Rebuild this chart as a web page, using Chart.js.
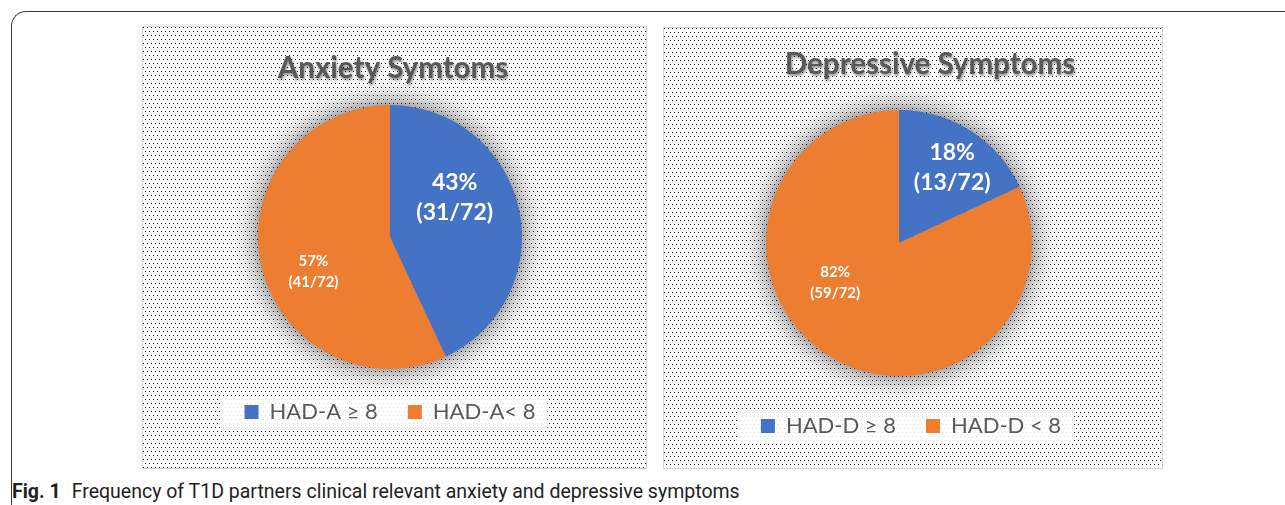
<!DOCTYPE html>
<html>
<head>
<meta charset="utf-8">
<script src="https://cdn.jsdelivr.net/npm/chart.js@4.4.0/dist/chart.umd.min.js"></script>
<style>
  html, body { margin: 0; padding: 0; background: #fff; }
  body { width: 1285px; height: 505px; position: relative; overflow: hidden; }
  .frame {
    position: absolute; left: 11px; top: 11px; width: 1400px; height: 600px;
    border-top: 1.5px solid #3a3a3a; border-left: 1.5px solid #3a3a3a;
    border-top-left-radius: 15px;
  }
  .panel {
    position: absolute; border: 1px solid #d4d4d4; box-sizing: border-box;
  }
  .panel canvas { position: absolute; left: 0; top: 0; }
  #p1 { left: 142px; top: 26px; width: 505px; height: 443px; }
  #p2 { left: 663px; top: 27px; width: 500px; height: 442px; }
  .caption {
    position: absolute; left: 12px; top: 480px; font-size: 19.5px; color: #222;
    font-family: 'Roboto', sans-serif; white-space: nowrap;
  }
  .caption b { margin-right: 11px; }
</style>
</head>
<body>
<div class="frame"></div>
<div class="panel" id="p1"><canvas id="anxietyChart" width="504" height="442"></canvas></div>
<div class="panel" id="p2"><canvas id="depressiveChart" width="499" height="441"></canvas></div>
<div class="caption"><b>Fig. 1</b>Frequency of T1D partners clinical relevant anxiety and depressive symptoms</div>

<script>
// data
const totalPartners = 72;
const anxietyTitle = 'Anxiety Symtoms';
const anxietyLabels = ['HAD-A \u2265 8', 'HAD-A< 8'];
const anxietyCounts = [31, 41];
const depressiveTitle = 'Depressive Symptoms';
const depressiveLabels = ['HAD-D \u2265 8', 'HAD-D < 8'];
const depressiveCounts = [13, 59];
const sliceColors = ['#4472C4', '#ED7D31'];

// dotted background like the excel pattern fill
const tile = document.createElement('canvas');
tile.width = 4; tile.height = 8;
const tctx = tile.getContext('2d');
tctx.fillStyle = '#fff';
tctx.fillRect(0, 0, 4, 8);
tctx.fillStyle = '#1a1a1a';
tctx.fillRect(0, 0, 1, 1);
tctx.fillRect(2, 4, 1, 1);
const patternUrl = tile.toDataURL();
document.querySelectorAll('.panel').forEach(p => {
  p.style.backgroundImage = 'url(' + patternUrl + ')';
});

const font = "'Lato', 'Open Sans', sans-serif";

// shadow, title, labels and legend box
const excelLook = {
  id: 'excelLook',
  afterLayout(chart, args, opts) {
    if (opts.legendShift) {
      chart.legend.left += opts.legendShift;
      chart.legend.right += opts.legendShift;
    }
  },
  beforeDraw(chart, args, opts) {
    const ctx = chart.ctx;
    const area = chart.chartArea;
    const cx = (area.left + area.right) / 2;
    const cy = (area.top + area.bottom) / 2;
    const r = opts.radius;
    // soft halo round the pie
    const g = ctx.createRadialGradient(cx, cy, r - 4, cx, cy, r + 30);
    g.addColorStop(0, 'rgba(0,0,0,0.42)');
    g.addColorStop(0.3, 'rgba(0,0,0,0.2)');
    g.addColorStop(0.65, 'rgba(0,0,0,0.06)');
    g.addColorStop(1, 'rgba(0,0,0,0)');
    ctx.save();
    ctx.fillStyle = g;
    ctx.beginPath();
    ctx.arc(cx, cy, r + 30, 0, Math.PI * 2);
    ctx.fill();
    ctx.restore();

    const boxes = chart.legend.legendHitBoxes;
    if (!boxes || !boxes.length) return;
    const left = Math.min(...boxes.map(b => b.left)) - 24;
    const right = Math.max(...boxes.map(b => b.left + b.width)) + 12;
    const ly = boxes[0].top + boxes[0].height / 2;
    ctx.save();
    ctx.fillStyle = 'rgba(255,255,255,0.85)';
    ctx.fillRect(left, ly - 16, right - left, 32);
    ctx.restore();
  },
  afterDatasetsDraw(chart, args, opts) {
    const ctx = chart.ctx;
    const ds = chart.data.datasets[0];
    const meta = chart.getDatasetMeta(0);
    ctx.save();
    ctx.fillStyle = '#fff';
    ctx.textAlign = 'center';
    ctx.textBaseline = 'middle';
    meta.data.forEach((arc, i) => {
      const v = ds.data[i];
      const pct = Math.round(v / totalPartners * 100) + '%';
      const frac = '(' + v + '/' + totalPartners + ')';
      const off = opts.labelOffsets[i];
      const x = arc.x + off[0] * arc.outerRadius;
      const y = arc.y + off[1] * arc.outerRadius;
      const size = opts.labelSizes[i];
      const gap = opts.labelGaps[i];
      ctx.font = 'bold ' + size + 'px ' + font;
      ctx.fillText(pct, x, y - gap);
      ctx.fillText(frac, x, y + gap);
    });
    // title with shadow
    ctx.font = 'bold 29.5px ' + font;
    ctx.fillStyle = '#595959';
    ctx.shadowColor = 'rgba(0,0,0,0.45)';
    ctx.shadowBlur = 3;
    ctx.shadowOffsetX = 1;
    ctx.shadowOffsetY = 2;
    ctx.fillText(opts.title, opts.titleX, opts.titleY);
    ctx.restore();
  }
};

function makePie(canvasId, labels, counts, look, padding) {
  return new Chart(document.getElementById(canvasId).getContext('2d'), {
    type: 'pie',
    data: {
      labels: labels,
      datasets: [{
        data: counts,
        backgroundColor: sliceColors,
        borderWidth: 0,
        radius: look.radius
      }]
    },
    options: {
      responsive: false,
      animation: false,
      layout: { padding: padding },
      plugins: {
        title: { display: false },
        tooltip: { enabled: false },
        legend: {
          position: 'bottom',
          labels: {
            boxWidth: 14,
            boxHeight: 14,
            padding: 30,
            color: '#595959',
            font: { family: font, size: 22 }
          }
        },
        excelLook: look
      }
    },
    plugins: [excelLook]
  });
}

makePie('anxietyChart', anxietyLabels, anxietyCounts, {
  title: anxietyTitle, titleX: 250, titleY: 41, radius: 132,
  labelOffsets: [[0.49, -0.30], [-0.58, 0.26]],
  labelSizes: [23, 15],
  labelGaps: [15, 10.5],
  legendShift: 0
}, { top: 76, bottom: 36, left: 0, right: 10 });

makePie('depressiveChart', depressiveLabels, depressiveCounts, {
  title: depressiveTitle, titleX: 266, titleY: 36, radius: 133,
  labelOffsets: [[0.40, -0.57], [-0.48, 0.30]],
  labelSizes: [23, 15],
  labelGaps: [15, 10.5],
  legendShift: 12
}, { top: 73, bottom: 22, left: 0, right: 29 });
</script>
</body>
</html>
